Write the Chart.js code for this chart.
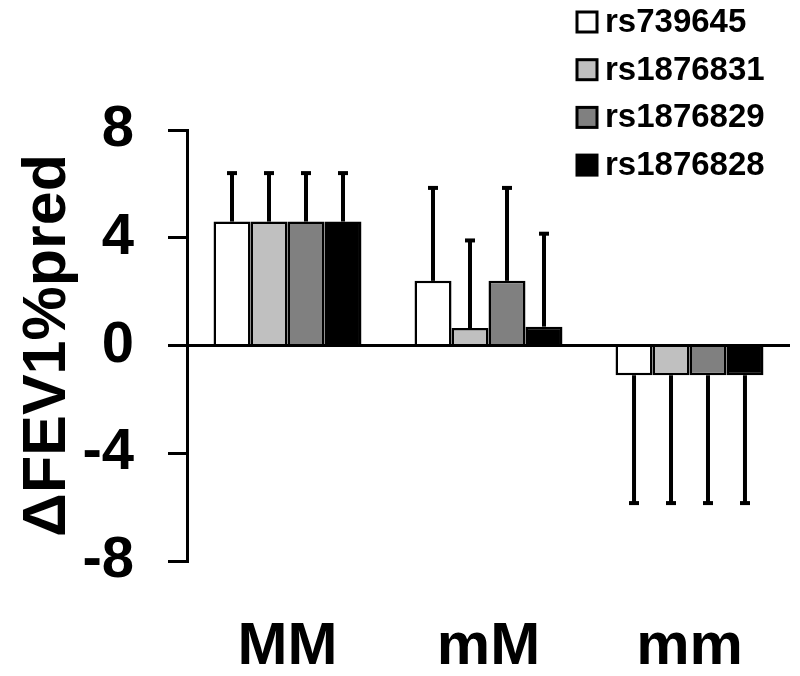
<!DOCTYPE html>
<html>
<head>
<meta charset="utf-8">
<script src="https://cdn.jsdelivr.net/npm/chart.js@4"></script>
<style>
  body { margin: 0; background: #fff; }
  #wrap { width: 800px; height: 676px; }
</style>
</head>
<body>
<div id="wrap"><canvas id="barChart"></canvas></div>
<script>
    const groups = ['MM', 'mM', 'mm'];
    const snps = ['rs739645', 'rs1876831', 'rs1876829', 'rs1876828'];
    const fills = ['#ffffff', '#c0c0c0', '#808080', '#000000'];

    // mean change per genotype group, one array per SNP
    const rs739645 = [4.6, 2.4, -1.1];
    const rs1876831 = [4.6, 0.65, -1.1];
    const rs1876829 = [4.6, 2.4, -1.1];
    const rs1876828 = [4.6, 0.7, -1.1];

    // one-sided error (drawn away from zero)
    const err739645 = [1.8, 3.45, 4.75];
    const err1876831 = [1.8, 3.25, 4.75];
    const err1876829 = [1.8, 3.45, 4.75];
    const err1876828 = [1.8, 3.45, 4.75];

    const yTicks = [-8, -4, 0, 4, 8];

    const means = [rs739645, rs1876831, rs1876829, rs1876828];
    const errs = [err739645, err1876831, err1876829, err1876828];
    const FONT = '"Liberation Sans", Arial, sans-serif';

    // error bars with a small cap at the end
    const errorBars = {
        id: 'errorBars',
        afterDatasetsDraw(chart) {
            const ctx = chart.ctx;
            const y = chart.scales.y;
            ctx.save();
            ctx.strokeStyle = '#000';
            chart.data.datasets.forEach((ds, i) => {
                chart.getDatasetMeta(i).data.forEach((bar, j) => {
                    const v = ds.data[j];
                    const end = y.getPixelForValue(v + (v < 0 ? -1 : 1) * ds.err[j]);
                    ctx.lineWidth = 4;
                    ctx.beginPath();
                    ctx.moveTo(bar.x, bar.y);
                    ctx.lineTo(bar.x, end);
                    ctx.stroke();
                    ctx.beginPath();
                    ctx.moveTo(bar.x - 5, end);
                    ctx.lineTo(bar.x + 5, end);
                    ctx.stroke();
                });
            });
            ctx.restore();
        }
    };

    // vertical legend in the top right corner
    const sideLegend = {
        id: 'sideLegend',
        afterDraw(chart) {
            const ctx = chart.ctx;
            ctx.save();
            ctx.font = 'bold 33px ' + FONT;
            ctx.textBaseline = 'middle';
            chart.data.datasets.forEach((ds, i) => {
                const top = 12 + i * 47.7;
                ctx.fillStyle = ds.backgroundColor;
                ctx.fillRect(577, top, 20, 20);
                ctx.lineWidth = 3;
                ctx.strokeStyle = '#000';
                ctx.strokeRect(577, top, 20, 20);
                ctx.fillStyle = '#000';
                ctx.fillText(ds.label, 605, top + 11);
            });
            ctx.restore();
        }
    };

    const ctx = document.getElementById('barChart').getContext('2d');
    const barChart = new Chart(ctx, {
        type: 'bar',
        data: {
            labels: groups,
            datasets: snps.map((name, i) => ({
                label: name,
                data: means[i],
                err: errs[i],
                backgroundColor: fills[i],
                borderColor: '#000',
                borderWidth: 2.5,
                barPercentage: 1,
                categoryPercentage: 0.736
            }))
        },
        options: {
            responsive: true,
            maintainAspectRatio: false,
            animation: false,
            layout: { padding: { top: 130, right: 10, left: 0, bottom: 0 } },
            plugins: {
                legend: { display: false },
                tooltip: { enabled: false }
            },
            scales: {
                x: {
                    grid: { display: false, drawTicks: false },
                    border: { display: false },
                    ticks: {
                        color: '#000',
                        padding: 50,
                        font: { family: FONT, size: 60, weight: 'bold' }
                    },
                    afterFit(s) { s.height = 115; }
                },
                y: {
                    min: -8,
                    max: 8,
                    afterBuildTicks(s) { s.ticks = yTicks.map(v => ({ value: v })); },
                    grid: {
                        color: c => (c.tick && c.tick.value === 0 ? '#000' : 'rgba(0,0,0,0)'),
                        lineWidth: 3,
                        tickColor: '#000',
                        tickLength: 19
                    },
                    border: { display: true, color: '#000', width: 3 },
                    ticks: {
                        color: '#000',
                        padding: 34,
                        font: { family: FONT, size: 58, weight: 'bold' }
                    },
                    title: {
                        display: true,
                        text: '\u0394FEV1%pred',
                        color: '#000',
                        padding: { top: 12, bottom: 0 },
                        font: { family: FONT, size: 61, weight: 'bold' }
                    },
                    afterFit(s) { s.width = 187; }
                }
            }
        },
        plugins: [errorBars, sideLegend]
    });
</script>
</body>
</html>
